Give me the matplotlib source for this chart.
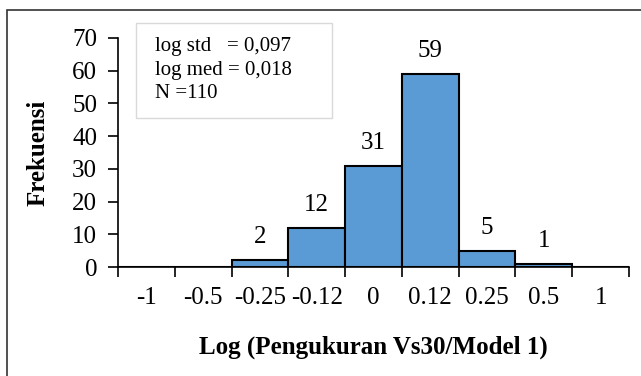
import matplotlib.pyplot as plt
from matplotlib.patches import Rectangle

plt.rcParams['font.family'] = ['Liberation Serif', 'DejaVu Serif']

kelas = ['-1', '-0.5', '-0.25', '-0.12', '0', '0.12', '0.25', '0.5', '1']
frekuensi = [0, 0, 2, 12, 31, 59, 5, 1, 0]
statistik = ['log std   = 0,097', 'log med = 0,018', 'N =110']

W, H = 641, 376
fig = plt.figure(figsize=(W / 100, H / 100), dpi=100)
ax = fig.add_axes([118 / W, (H - 267) / H, 511 / W, 229 / H])

x = list(range(len(kelas)))
ax.bar(x, frekuensi, width=1.0, color='#5B9BD5', edgecolor='black', linewidth=1.5)

# label nilai di atas batang (kelas kosong tidak diberi label)
for xi, f in zip(x, frekuensi):
    if f > 0:
        ax.annotate(str(f), (xi, f), xytext=(0, 12), textcoords='offset pixels',
                    ha='center', va='bottom', fontsize=18)

ax.set_xlim(-0.5, len(kelas) - 0.5)
ax.set_ylim(0, 70)
ax.set_yticks(range(0, 71, 10))
ax.set_xticks(x)
ax.set_xticklabels(kelas)
ax.set_xticks([i - 0.5 for i in range(len(kelas) + 1)], minor=True)
ax.tick_params(axis='x', which='major', length=0, pad=14.5, labelsize=18)
ax.tick_params(axis='x', which='minor', length=7, width=1.2, direction='out')
ax.tick_params(axis='y', length=7, width=1.2, direction='out', labelsize=18, pad=8)

for s in ['top', 'right']:
    ax.spines[s].set_visible(False)
for s in ['left', 'bottom']:
    ax.spines[s].set_linewidth(1.2)

ax.set_ylabel('Frekuensi', fontsize=18, fontweight='bold', labelpad=16)
ax.set_xlabel('Log (Pengukuran Vs30/Model 1)', fontsize=18, fontweight='bold', labelpad=19)

# kotak keterangan statistik
fig.patches.append(Rectangle((136 / W, 1 - 118 / H), 196 / W, 95 / H,
                             transform=fig.transFigure, facecolor='white',
                             edgecolor='#d9d9d9', linewidth=1))
for i, baris in enumerate(statistik):
    fig.text(155 / W, 1 - (47 + 23 * i) / H, baris, fontsize=15,
             va='center', ha='left')

# bingkai area grafik
fig.patches.append(Rectangle((7 / W, -0.05), 1.1, 1 - 10 / H + 0.05,
                             transform=fig.transFigure, fill=False,
                             edgecolor='#333333', linewidth=1.2))

fig.savefig('out.png', dpi=100)
